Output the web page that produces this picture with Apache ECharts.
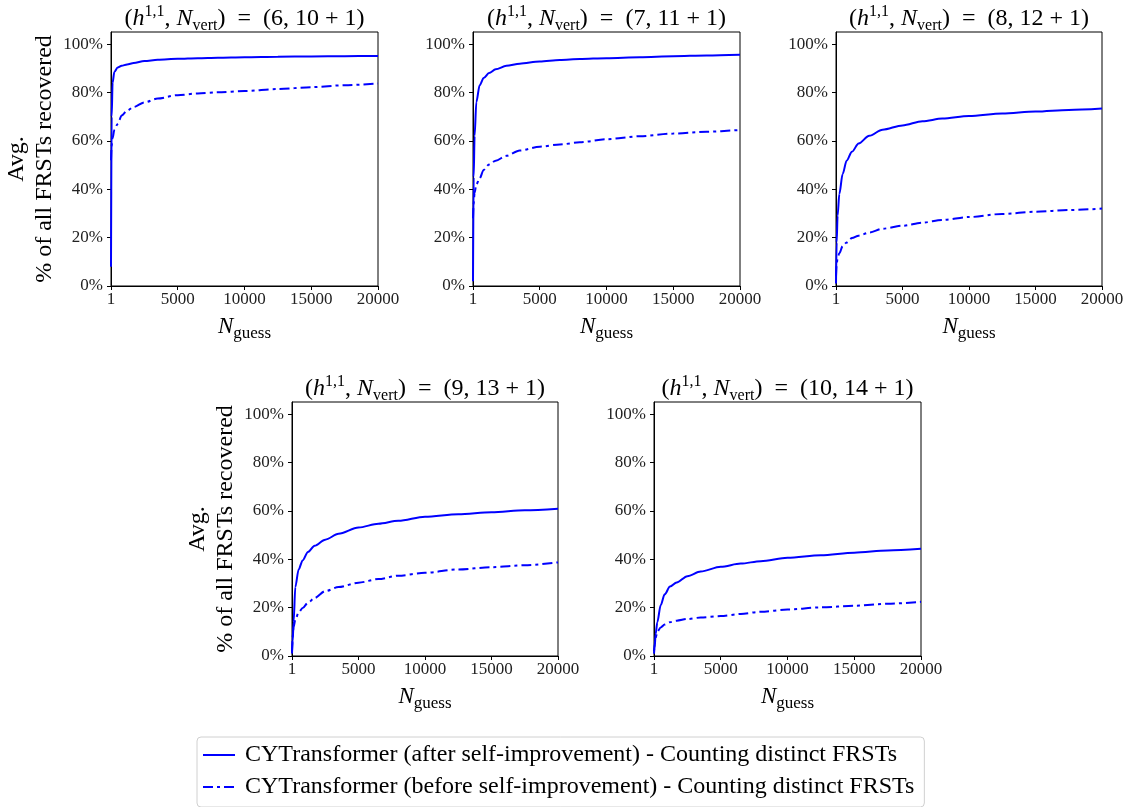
<!DOCTYPE html>
<html>
<head>
<meta charset="utf-8">
<script src="https://cdn.jsdelivr.net/npm/echarts@6/dist/echarts.min.js"></script>
<style>
  html, body { margin: 0; padding: 0; background: #fff; }
  #main { width: 1128px; height: 807px; }
</style>
</head>
<body>
<div id="main"></div>
<script>
var FONT = 'Liberation Serif';

// number of guesses (shared sample points)
var guesses = [1, 50, 120, 250, 500, 800, 1200, 1700, 2500, 3500, 5000, 6500, 8000, 10000, 12500, 15000, 17500, 20000];

// % of FRSTs recovered, after self-improvement (solid) / before (dash-dot)
var after_6_10  = [8, 70, 84, 88.5, 90.3, 91, 91.6, 92.2, 93.0, 93.5, 93.9, 94.2, 94.4, 94.6, 94.8, 94.9, 95.0, 95.1];
var before_6_10 = [52, 58, 61, 64.5, 67, 70.5, 72.5, 74, 75.9, 77.5, 78.9, 79.6, 80.1, 80.6, 81.4, 82.2, 83, 83.7];

var after_7_11  = [2, 45, 62, 76, 83, 86, 88, 89.6, 91, 91.9, 92.8, 93.4, 93.8, 94.2, 94.6, 95, 95.3, 95.6];
var before_7_11 = [28, 34, 38.5, 42, 44.5, 48, 50.2, 51.8, 53.8, 56, 57.6, 58.5, 59.4, 60.7, 61.9, 63, 63.8, 64.5];

var after_8_12  = [1, 18, 29, 38, 46.3, 51.8, 55.5, 58.9, 62.1, 64.6, 66.4, 68.1, 69.2, 70.3, 71.3, 72.1, 72.8, 73.4];
var before_8_12 = [4, 9, 11.5, 13.5, 16.5, 18, 19.8, 20.8, 22.1, 23.7, 24.9, 26.2, 27.3, 28.5, 29.8, 30.7, 31.4, 32];

var after_9_13  = [1, 6, 14, 28.5, 35.8, 39.5, 43, 45.6, 48.1, 50.5, 53.1, 54.7, 55.9, 57.6, 58.6, 59.4, 60.2, 60.9];
var before_9_13 = [2, 8, 12, 15, 18, 19.8, 22, 24, 26.8, 28.5, 30.3, 31.8, 33.2, 34.4, 35.8, 36.7, 37.5, 38.7];

var after_10_14  = [1, 3.5, 9, 14, 21, 25.5, 28.7, 30.4, 33, 34.9, 36.9, 38.2, 39.2, 40.6, 41.7, 42.7, 43.6, 44.3];
var before_10_14 = [2, 5, 7.5, 10, 11.8, 13, 14, 14.6, 15.3, 15.9, 16.5, 17.4, 18.3, 19.2, 20.1, 20.8, 21.6, 22.4];

var xTicks = [1, 5000, 10000, 15000, 20000];
var yTicks = [0, 20, 40, 60, 80, 100];

var panelTitles = [['6', '10'], ['7', '11'], ['8', '12'], ['9', '13'], ['10', '14']];
var afterSeries = [after_6_10, after_7_11, after_8_12, after_9_13, after_10_14];
var beforeSeries = [before_6_10, before_7_11, before_8_12, before_9_13, before_10_14];

var NAME_AFTER = 'CYTransformer (after self-improvement) - Counting distinct FRSTs';
var NAME_BEFORE = 'CYTransformer (before self-improvement) - Counting distinct FRSTs';

// plot boxes
var boxes = [
  {left: 111, top: 32, width: 267, height: 254},
  {left: 473, top: 32, width: 267, height: 254},
  {left: 836, top: 32, width: 266, height: 254},
  {left: 292, top: 402, width: 266, height: 254},
  {left: 654, top: 402, width: 267, height: 254}
];

function pairs(xs, ys) {
  var out = [];
  for (var i = 0; i < xs.length; i++) out.push([xs[i], ys[i]]);
  return out;
}

var grids = [], xAxes = [], yAxes = [], series = [], graphics = [];

boxes.forEach(function (b, i) {
  grids.push({
    left: b.left, top: b.top, width: b.width, height: b.height,
    show: true, borderColor: '#000', borderWidth: 1, containLabel: false
  });
  xAxes.push({
    gridIndex: i, type: 'value', min: 1, max: 20000,
    name: '{n|N}{s|guess}', nameLocation: 'middle', nameGap: 26,
    nameTextStyle: {
      fontFamily: FONT, color: '#000', fontSize: 22, lineHeight: 30,
      rich: {
        n: {fontFamily: FONT, fontStyle: 'italic', fontSize: 23, lineHeight: 30, verticalAlign: 'middle', color: '#000'},
        s: {fontFamily: FONT, fontSize: 17, lineHeight: 14, verticalAlign: 'bottom', color: '#000'}
      }
    },
    axisLine: {show: true, lineStyle: {color: '#000', width: 1}},
    axisTick: {show: true, length: 4, customValues: xTicks, lineStyle: {color: '#000'}},
    axisLabel: {
      customValues: xTicks, fontFamily: FONT, fontSize: 17, color: '#222', margin: 5,
      formatter: function (v) { return String(v); }
    },
    splitLine: {show: false}
  });
  yAxes.push({
    gridIndex: i, type: 'value', min: 0, max: 105,
    axisLine: {show: true, lineStyle: {color: '#000', width: 1}},
    axisTick: {show: true, length: 4, customValues: yTicks, lineStyle: {color: '#000'}},
    axisLabel: {customValues: yTicks, formatter: '{value}%', fontFamily: FONT, fontSize: 17, color: '#222', margin: 8},
    splitLine: {show: false}
  });
  series.push({
    name: NAME_AFTER, type: 'line', xAxisIndex: i, yAxisIndex: i,
    data: pairs(guesses, afterSeries[i]),
    symbol: 'none', smooth: 0.3, smoothMonotone: 'x',
    lineStyle: {color: '#0000ff', width: 2, type: 'solid'},
    itemStyle: {color: '#0000ff'}
  });
  series.push({
    name: NAME_BEFORE, type: 'line', xAxisIndex: i, yAxisIndex: i,
    data: pairs(guesses, beforeSeries[i]),
    symbol: 'none', smooth: 0.3, smoothMonotone: 'x',
    lineStyle: {color: '#0000ff', width: 2, type: [10, 4, 3, 4]},
    itemStyle: {color: '#0000ff'}
  });

  // panel title
  graphics.push({
    type: 'text', x: b.left + b.width / 2, y: b.top - 13,
    style: {
      text: '({i|h}{sup|1,1}, {i|N}{sub|vert})  =  (' + panelTitles[i][0] + ', ' + panelTitles[i][1] + ' + 1)',
      fontFamily: FONT, fontSize: 24, lineHeight: 30, fill: '#000',
      align: 'center', verticalAlign: 'middle',
      rich: {
        i: {fontFamily: FONT, fontStyle: 'italic', fontSize: 24, lineHeight: 30},
        sup: {fontFamily: FONT, fontSize: 16, lineHeight: 16, verticalAlign: 'top'},
        sub: {fontFamily: FONT, fontSize: 16, lineHeight: 13, verticalAlign: 'bottom'}
      }
    }
  });
});

// y axis labels for the left panels
[0, 3].forEach(function (i) {
  var b = boxes[i];
  graphics.push({
    type: 'text', x: b.left - 80, y: b.top + b.height / 2, rotation: Math.PI / 2,
    style: {
      text: 'Avg.\n% of all FRSTs recovered',
      fontFamily: FONT, fontSize: 24, lineHeight: 28, fill: '#000',
      align: 'center', verticalAlign: 'middle'
    }
  });
});

var chart = echarts.init(document.getElementById('main'));
chart.setOption({
  animation: false,
  backgroundColor: '#fff',
  grid: grids,
  xAxis: xAxes,
  yAxis: yAxes,
  legend: {
    orient: 'vertical', left: 197, top: 737,
    data: [NAME_AFTER, NAME_BEFORE],
    itemWidth: 32, itemHeight: 14, itemGap: 8,
    padding: [6, 10, 8, 5],
    itemStyle: {opacity: 0},
    borderColor: '#d0d0d0', borderWidth: 1, borderRadius: 4,
    textStyle: {fontFamily: FONT, fontSize: 24, color: '#000', padding: [0, 0, 0, 5]}
  },
  series: series,
  graphic: graphics
});
</script>
</body>
</html>
